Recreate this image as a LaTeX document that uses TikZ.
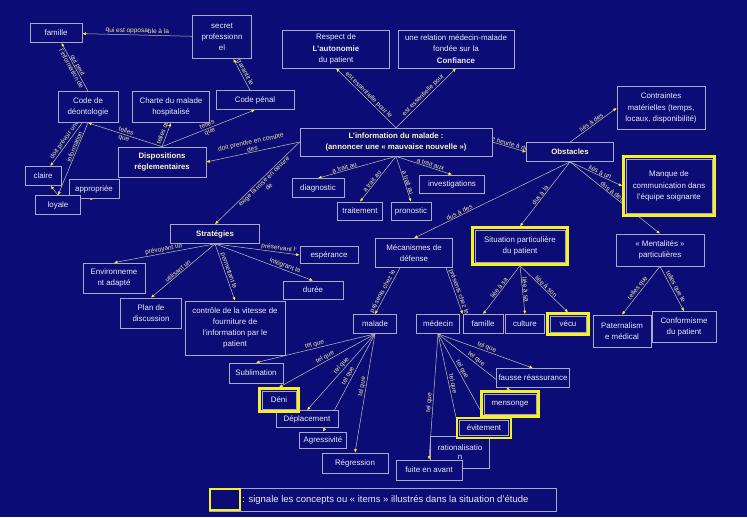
\documentclass[tikz,border=0pt]{standalone}
\usepackage{fontspec}
\setmainfont{Liberation Sans}
\usetikzlibrary{arrows.meta,backgrounds}
\definecolor{fond}{RGB}{12,12,118}
\definecolor{cadre}{RGB}{170,170,200}
\definecolor{ligne}{RGB}{195,195,175}
\definecolor{etiq}{RGB}{235,235,165}
\definecolor{texte}{RGB}{235,235,245}
\definecolor{titre}{RGB}{250,248,200}
\definecolor{jaune}{RGB}{245,240,40}

\begin{document}
\begin{tikzpicture}[
  x=1pt, y=-1pt,
  concept/.style={draw=cadre, line width=0.7pt, fill=fond, text=texte, align=center,
    font=\fontsize{7.9}{11.2}\selectfont, inner sep=1pt},
  cle/.style={concept, font=\fontsize{7.8}{10.5}\selectfont\bfseries, text=titre},
  vu/.style={concept, draw=jaune, line width=2.4pt,
    path picture={\draw[cadre, line width=0.6pt]
      ([shift={(2.6pt,-2.6pt)}]path picture bounding box.north west) rectangle
      ([shift={(-2.6pt,2.6pt)}]path picture bounding box.south east);}},
  sz/.style 2 args={minimum width=#1pt, minimum height=#2pt},
  lien/.style={draw=ligne, line width=0.5pt, -{Latex[length=3.5pt,width=3pt,color=jaune]}},
  lbl/.style={font=\fontsize{6.5}{7.2}\selectfont, text=etiq, sloped, above, inner sep=0.6pt, align=center}
]
\useasboundingbox (0,0) rectangle (747,517);

% concepts du haut
\node[concept, sz={52}{19}] (famille) at (56,33) {famille};
\node[concept, sz={59}{43}] (secret) at (222,37) {secret\\professionn\\el};
\node[concept, sz={107}{38}] (autonomie) at (336,49) {Respect de\\\textbf{L'autonomie}\\du patient};
\node[concept, sz={116}{38}] (confiance) at (456,49) {une relation médecin-malade\\fondée sur la\\\textbf{Confiance}};
\node[concept, sz={60}{31}] (deonto) at (88,107) {Code de\\déontologie};
\node[concept, sz={77}{31}] (charte) at (171,107) {Charte du malade\\hospitalisé};
\node[concept, sz={78}{19}] (penal) at (255,100) {Code pénal};
\node[cle, sz={88}{30}] (dispo) at (162,162) {Dispositions\\réglementaires};
\node[concept, sz={36}{19}] (claire) at (43,176) {claire};
\node[concept, sz={50}{19}] (appro) at (94,189) {appropriée};
\node[concept, sz={45}{19}] (loyale) at (58,205) {loyale};

% information et obstacles
\node[cle, sz={192}{28}] (info) at (396,142) {L'information du malade :\\(annoncer une « mauvaise nouvelle »)};
\node[concept, sz={52}{19}] (diag) at (318,188) {diagnostic};
\node[concept, sz={45}{18}] (traitement) at (360,211) {traitement};
\node[concept, sz={40}{18}] (prono) at (411,211) {pronostic};
\node[concept, sz={65}{18}] (invest) at (452,184) {investigations};
\node[cle, sz={87}{19}] (obst) at (570,152) {Obstacles};
\node[concept, sz={88}{43}] (contr) at (661,108) {Contraintes\\matérielles (temps,\\locaux, disponibilité)};
\node[vu, sz={91}{59}] (manque) at (669,186) {Manque de\\communication dans\\l'équipe soignante};
\node[concept, sz={77}{29}] (meca) at (414,253) {Mécanismes de\\défense};
\node[vu, sz={95}{37}] (situ) at (520,246) {Situation particulière\\du patient};
\node[concept, sz={88}{32}] (menta) at (660,250) {« Mentalités »\\particulières};
\node[concept, sz={58}{32}] (pater) at (622,331) {Paternalism\\e médical};
\node[concept, sz={64}{31}] (confo) at (684,327) {Conformisme\\du patient};
\node[concept, sz={43}{19}] (malade) at (375,324) {malade};
\node[concept, sz={43}{19}] (medecin) at (438,324) {médecin};
\node[concept, sz={40}{19}] (famille2) at (483,324) {famille};
\node[concept, sz={39}{19}] (culture) at (525,324) {culture};
\node[vu, sz={41}{21}] (vecu) at (568,324) {vécu};

% mecanismes
\node[concept, sz={54}{20}] (subli) at (256,373) {Sublimation};
\node[concept, sz={62}{17}] (depla) at (307,419) {Déplacement};
\node[vu, sz={39}{23}] (deni) at (279,400) {Déni};
\node[concept, sz={47}{16}] (agress) at (323,440) {Agressivité};
\node[concept, sz={66}{20}] (regr) at (355,463) {Régression};
\node[concept, sz={73}{19}] (fausse) at (533,378) {fausse réassurance};
\node[concept, sz={59}{32}] (ratio) at (460,452) {rationalisatio\\[-2pt]n};
\node[concept, sz={66}{20}] (fuite) at (429,470) {fuite en avant};
\node[vu, sz={54}{20}] (evit) at (484,428) {évitement};
\node[vu, sz={57}{25}] (mens) at (510,404) {mensonge};

% strategies
\node[cle, sz={89}{19}] (strat) at (215,234) {Stratégies};
\node[concept, sz={62}{30}] (envir) at (114,278) {Environneme\\nt adapté};
\node[concept, sz={61}{30}] (plan) at (151,313) {Plan de\\discussion};
\node[concept, sz={100}{54}] (controle) at (235,328) {contrôle de la vitesse de\\fourniture de\\l'information par le\\patient};
\node[concept, sz={58}{17}] (espoir) at (329,255) {espérance};
\node[concept, sz={60}{18}] (duree) at (313,290) {durée};

% legende
\node[concept, sz={347}{23}] (legende) at (382.5,499.5) {};
\node[vu, sz={30}{21}, path picture={}] (cadrevu) at (225,499.5) {};
\node[anchor=west, text=texte, font=\fontsize{9.5}{11}\selectfont, inner sep=1pt] (legtxt) at (cadrevu.east)
  {: signale les concepts ou « items » illustrés dans la situation d'étude};

\begin{scope}[on background layer]
\fill[fond] (0,0) rectangle (747,517);
\draw[lien] (secret) -- node[lbl]{qui est opposable à la} (famille);
\draw[lien] (deonto.north) -- node[lbl, anchor=center]{qui peut\\l'information de} (famille);
\draw[lien] (penal) -- node[lbl]{garantit le} (secret);
\draw[lien] (dispo.north) -- node[lbl, anchor=center]{telles\\que} (deonto.south);
\draw[lien] (dispo.north) -- node[lbl, pos=.6]{telles que} (charte.south);
\draw[lien] (dispo.north) -- node[lbl, anchor=center]{telles\\que} (penal.south);
\draw[lien] (deonto.250) -- node[lbl, pos=.45]{doit prévoir une} (claire);
\draw[lien] (deonto.south) -- node[lbl, pos=.35]{information} (loyale.north);
\draw[lien] (loyale.north) -- (claire);
\draw[lien] (loyale.north) -- (appro.south);

\draw[lien] (info.north) -- node[lbl]{est essentielle pour le} (autonomie.south);
\draw[lien] (info.north) -- node[lbl]{est essentielle pour} (confiance.south);
\draw[lien] (info.west) -- node[lbl]{doit prendre en compte\\des} (dispo.east);
\draw[lien] (info.west) -- node[lbl, below, pos=.45]{exige la mise en oeuvre\\de} (strat.north);
\draw[lien] (info.south) -- node[lbl, pos=.65]{a trait au} (diag.north);
\draw[lien] (info.south) -- node[lbl, pos=.6]{a trait au} (traitement.north);
\draw[lien] (info.south) -- node[lbl, pos=.6]{a trait au} (prono.north);
\draw[lien] (info.south) -- node[lbl, pos=.6]{a trait aux} (invest.north);
\draw[lien] (info.east) -- node[lbl]{se heurte à des} (obst.west);

\draw[lien] (obst.north) -- node[lbl]{liés à des} (contr.west);
\draw[lien] (obst.south) -- node[lbl, pos=.55]{liés à un} (manque.west);
\draw[lien] (obst.south) -- node[lbl, pos=.45]{dus à des} (menta.north);
\draw[lien] (obst.south) -- node[lbl, pos=.7]{dus à des} (meca.north);
\draw[lien] (obst.south) -- node[lbl, pos=.55]{dus à la} (situ.north);

\draw[lien] (strat.south) -- node[lbl]{prévoyant un} (envir.north);
\draw[lien] (strat.south) -- node[lbl, pos=.55]{utilisant un} (plan.north);
\draw[lien] (strat.south) -- node[lbl, pos=.5]{permettant le} (controle.north);
\draw[lien] (strat.south) -- node[lbl, pos=.75]{préservant l'} (espoir.west);
\draw[lien] (strat.south) -- node[lbl, pos=.7]{intégrant la} (duree.north);

\draw[lien] ([xshift=-14pt]meca.south) -- node[lbl, pos=.55]{présents chez le} (malade.north);
\draw[lien] ([xshift=32pt]meca.south) -- node[lbl, pos=.55]{présents chez le} (famille2.north west);
\draw[lien] (situ.south) -- node[lbl]{liée à sa} (famille2.north);
\draw[lien] (situ.south) -- node[lbl]{liée à sa} (culture.north);
\draw[lien] (situ.south) -- node[lbl]{liée à son} (vecu.north);
\draw[lien] (menta.south) -- node[lbl]{telles que} (pater.north);
\draw[lien] (menta.south) -- node[lbl]{telles que le} (confo.north);

\foreach \cible/\ou in {subli/.5,deni/.5,depla/.45,agress/.45,regr/.45}
  \draw[lien] (malade.south) -- node[lbl, pos=\ou]{tel que} (\cible.north);
\foreach \cible/\ou in {fausse/.5,mens/.5,evit/.45,ratio/.5,fuite/.55}
  \draw[lien] (medecin.south) -- node[lbl, pos=\ou]{tel que} (\cible.north);
\end{scope}
\end{tikzpicture}
\end{document}
